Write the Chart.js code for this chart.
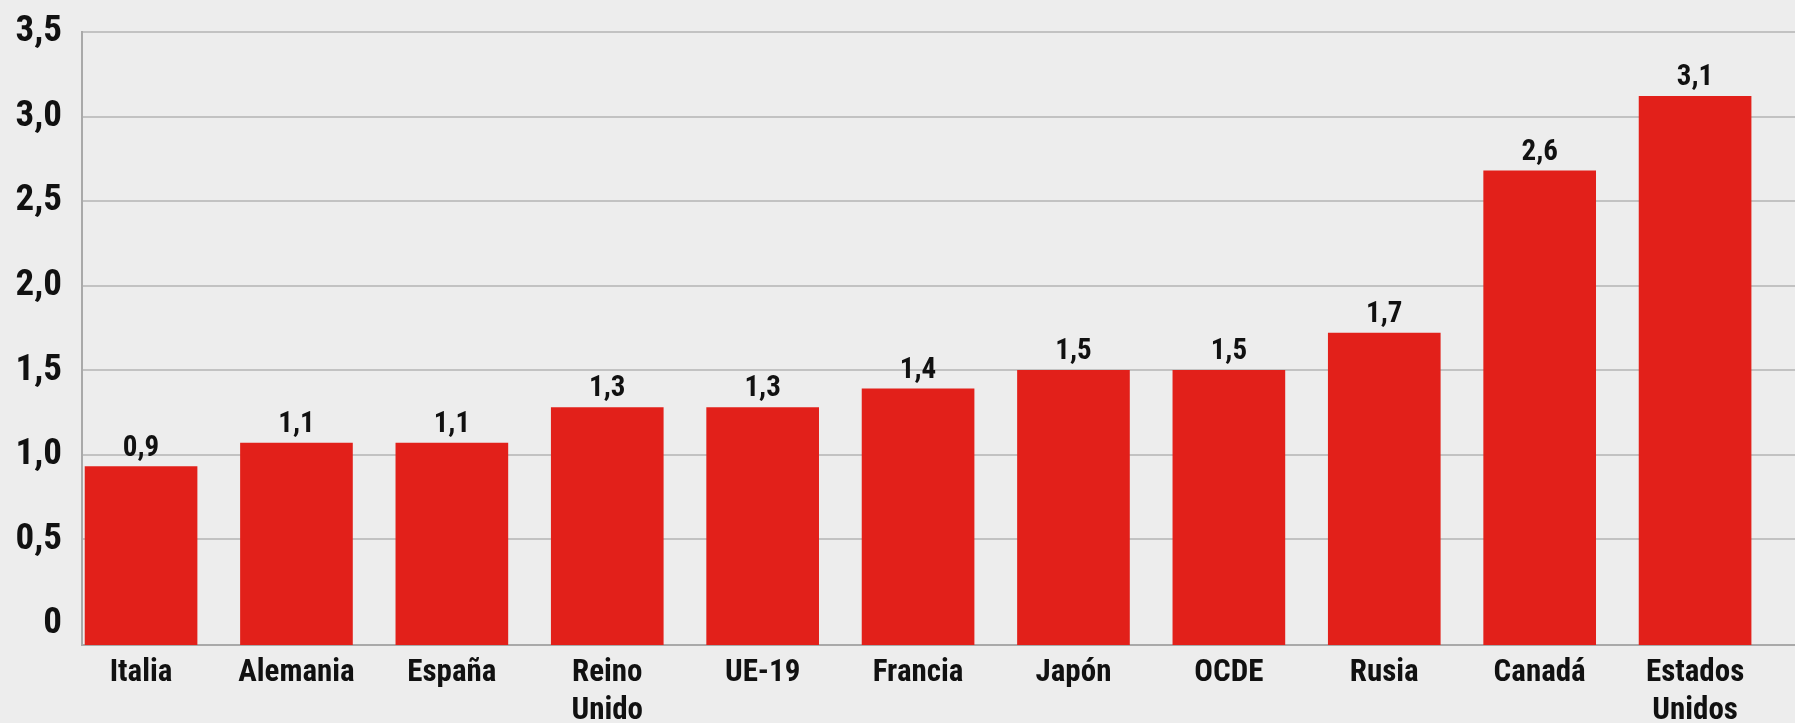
<!DOCTYPE html>
<html><head><meta charset="utf-8">
<script src="https://cdn.jsdelivr.net/npm/chart.js@4"></script>
<style>
html,body{margin:0;padding:0;background:#ededed;}
#wrap{width:1795px;height:723px;position:relative;}
canvas{display:block;}
</style>
</head><body>
<div id="wrap"><canvas id="c" width="1795" height="723"></canvas></div>
<script>
const categories = [['Italia'],['Alemania'],['España'],['Reino','Unido'],['UE-19'],['Francia'],['Japón'],['OCDE'],['Rusia'],['Canadá'],['Estados','Unidos']];
const values = [0.93,1.07,1.07,1.28,1.28,1.39,1.50,1.50,1.72,2.68,3.12];
const valueLabels = ['0,9','1,1','1,1','1,3','1,3','1,4','1,5','1,5','1,7','2,6','3,1'];
const yTickLabels = ['0','0,5','1,0','1,5','2,0','2,5','3,0','3,5'];

const FONT = "Roboto, 'DejaVu Sans Condensed', sans-serif";
const WEIGHT = 'bold condensed';
const Y_MIN = -0.125;

const valueLabelPlugin = {
  id: 'valueLabels',
  afterDatasetsDraw(chart) {
    const ctx = chart.ctx;
    const meta = chart.getDatasetMeta(0);
    ctx.save();
    ctx.font = WEIGHT + ' 29px ' + FONT;
    ctx.fillStyle = '#111111';
    ctx.textAlign = 'center';
    ctx.textBaseline = 'alphabetic';
    meta.data.forEach((bar, i) => {
      ctx.fillText(valueLabels[i], bar.x, bar.y - 11);
    });
    ctx.restore();
  }
};

new Chart(document.getElementById('c'), {
  type: 'bar',
  data: {
    datasets: [{
      data: values.map((v, i) => ({x: i, y: v})),
      backgroundColor: '#e2201a',
      borderWidth: 0,
      barThickness: 112,
      base: Y_MIN
    }]
  },
  options: {
    responsive: false,
    animation: false,
    devicePixelRatio: 1,
    layout: {padding: {top: 31, right: 0, left: 0, bottom: 0}},
    plugins: {legend: {display: false}, tooltip: {enabled: false}},
    scales: {
      x: {
        type: 'linear',
        offset: false,
        min: -0.38,
        max: 10.643,
        afterFit: (s) => { s.height = 78; },
        grid: {display: true, offset: false, drawOnChartArea: false, drawTicks: false},
        border: {display: true, color: '#a9a9a9', width: 2},
        ticks: {
          stepSize: 1,
          includeBounds: false,
          autoSkip: false,
          maxRotation: 0,
          padding: 10,
          color: '#111111',
          font: {family: FONT, size: 31, weight: WEIGHT, lineHeight: 1.2},
          callback: (v) => Number.isInteger(v) && categories[v] ? categories[v] : ''
        }
      },
      y: {
        type: 'linear',
        min: Y_MIN,
        max: 3.5,
        afterFit: (s) => { s.width = 82; },
        grid: {
          drawTicks: true,
          tickLength: 10,
          tickColor: 'rgba(0,0,0,0)',
          lineWidth: 2,
          color: (c) => (c.tick && Math.abs(c.tick.value) < 1e-9) ? 'rgba(0,0,0,0)' : '#c2c2c2'
        },
        border: {display: true, color: '#a9a9a9', width: 2},
        ticks: {
          stepSize: 0.5,
          includeBounds: false,
          padding: 10,
          color: '#111111',
          font: {family: FONT, size: 37, weight: WEIGHT},
          callback: (v) => yTickLabels[Math.round(v / 0.5)]
        }
      }
    }
  },
  plugins: [valueLabelPlugin]
});
</script>
</body></html>
